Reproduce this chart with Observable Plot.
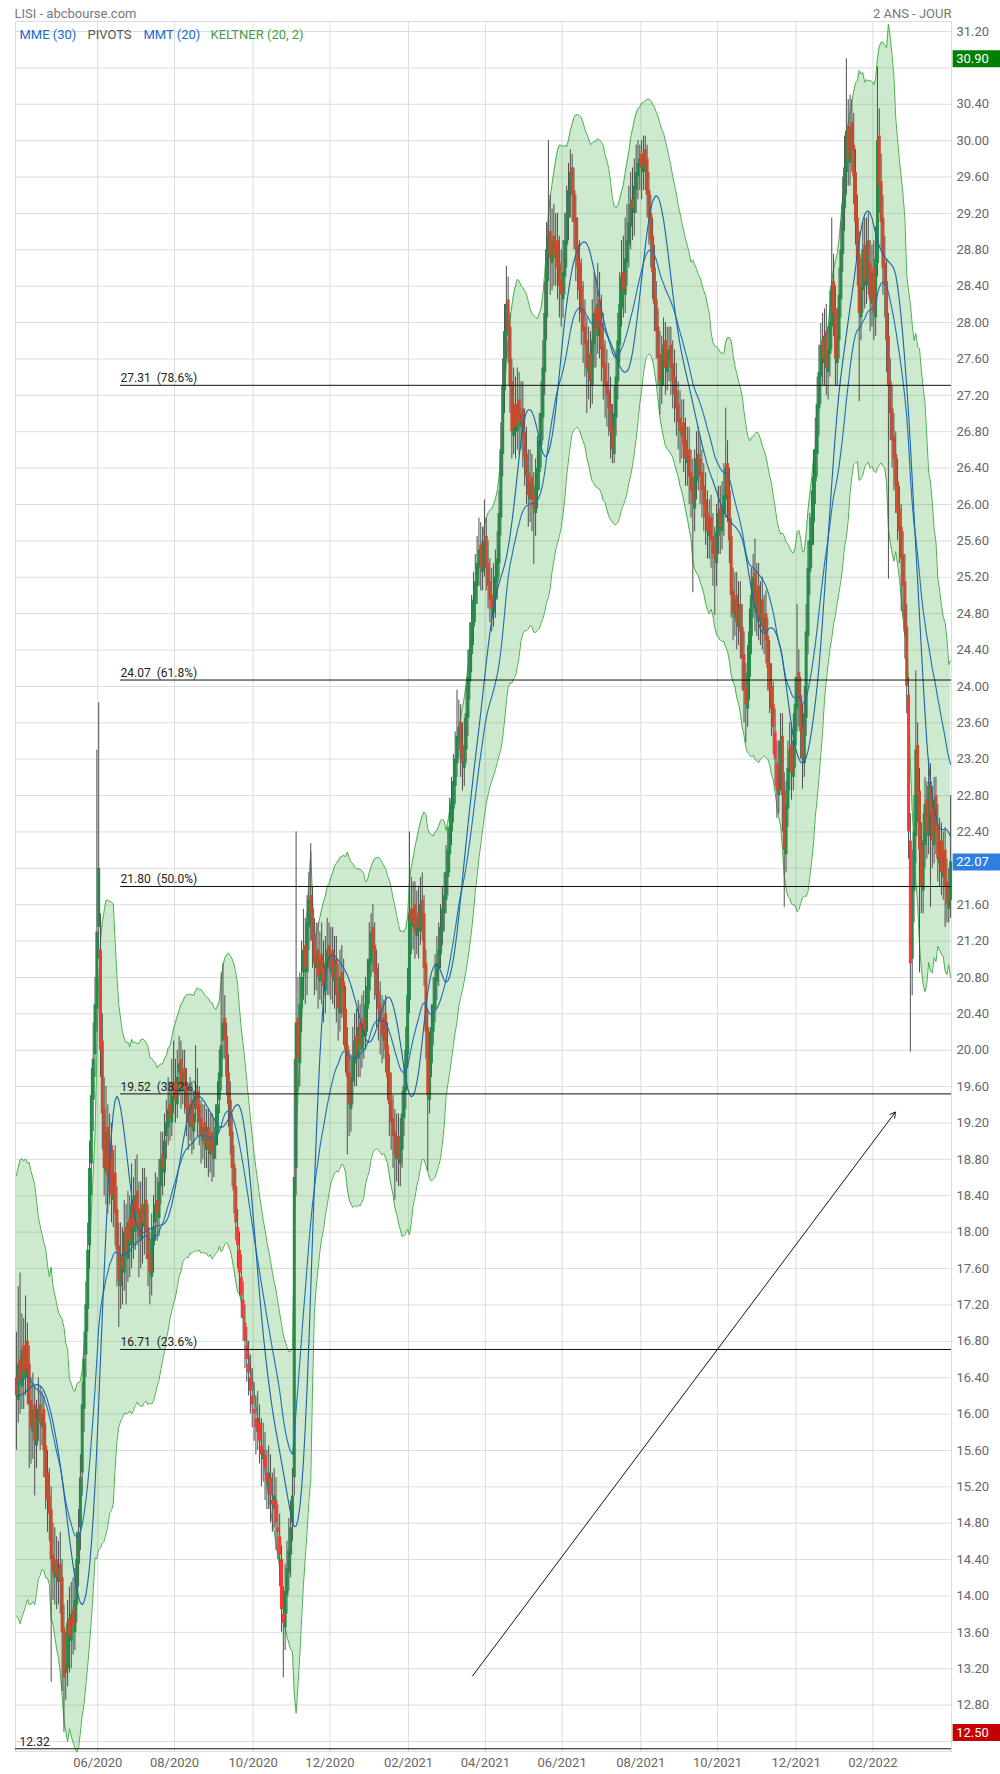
<!DOCTYPE html>
<html>
<head>
<meta charset="utf-8">
<script src="https://cdn.jsdelivr.net/npm/d3@7"></script>
<script src="https://cdn.jsdelivr.net/npm/@observablehq/plot@0.6"></script>
<style>
  html, body { margin: 0; padding: 0; background: #fff; }
  #chart svg { display: block; }
</style>
</head>
<body>
<div id="chart"></div>
<script>
// LISI, daily sessions over two years (index 0 = first session on the chart)
const open = [
  16.40, 16.15, 16.60, 16.30, 16.75, 16.40, 16.80, 16.55, 16.15, 15.80,
  16.10, 15.65, 15.90, 16.10, 15.85, 16.05, 15.65, 15.35, 15.10, 14.95,
  14.45, 14.20, 14.40, 14.15, 14.35, 14.20, 13.65, 13.15, 13.20, 13.75,
  13.50, 13.85, 13.60, 13.90, 14.35, 14.75, 15.35, 16.05, 16.65, 17.15,
  17.85, 18.75, 19.45, 19.95, 20.45, 21.35, 21.10, 20.10, 19.35, 18.65,
  19.15, 18.55, 18.95, 18.35, 18.65, 18.25, 17.85, 17.40, 17.75, 17.55,
  18.05, 17.70, 18.15, 17.85, 18.35, 18.00, 18.45, 18.25, 17.90, 18.30,
  18.05, 18.35, 18.05, 17.75, 17.50, 17.85, 18.10, 18.35, 18.15, 18.50,
  18.85, 18.65, 19.05, 19.15, 19.40, 19.20, 19.55, 19.65, 19.40, 19.75,
  19.90, 19.55, 19.80, 19.60, 19.40, 19.15, 19.45, 19.10, 19.35, 19.55,
  19.40, 19.25, 19.00, 19.20, 18.90, 19.15, 18.85, 19.10, 18.80, 18.95,
  19.10, 19.45, 19.70, 20.10, 20.35, 20.15, 19.75, 19.45, 19.10, 18.75,
  18.50, 18.05, 17.80, 17.50, 17.25, 17.00, 16.75, 16.55, 16.40, 16.20,
  16.05, 15.95, 15.80, 15.90, 15.65, 15.50, 15.55, 15.35, 15.20, 15.30,
  15.05, 14.95, 15.05, 14.75, 14.65, 14.40, 13.80, 13.65, 14.00, 14.25,
  14.45, 14.80, 15.30, 18.70, 20.35, 19.85, 20.45, 20.85, 21.15, 20.85,
  21.35, 21.70, 21.55, 21.25, 20.90, 21.10, 20.75, 21.05, 20.90, 20.65,
  20.90, 21.15, 20.85, 21.10, 20.75, 21.00, 20.65, 20.40, 20.85, 20.75,
  20.45, 20.05, 19.75, 19.35, 19.65, 19.85, 20.15, 19.90, 20.30, 20.00,
  20.35, 20.15, 20.45, 20.65, 20.95, 21.35, 21.15, 20.90, 20.65, 20.50,
  20.35, 20.10, 20.40, 20.05, 19.75, 19.45, 19.25, 19.10, 18.80, 19.05,
  18.75, 18.90, 19.25, 19.55, 19.95, 20.55, 21.55, 21.35, 21.60, 21.25,
  21.50, 21.30, 21.65, 21.50, 20.95, 20.25, 19.45, 19.85, 20.20, 20.45,
  20.75, 20.90, 21.05, 21.30, 21.50, 21.65, 21.90, 22.15, 22.40, 22.65,
  22.90, 23.15, 23.40, 23.60, 23.35, 23.10, 23.30, 23.65, 24.05, 24.35,
  24.65, 24.90, 25.10, 25.30, 25.55, 25.25, 25.40, 25.65, 25.35, 25.15,
  25.00, 24.80, 24.95, 25.15, 25.35, 25.85, 26.55, 27.25, 27.85, 28.25,
  27.95, 27.35, 26.75, 27.10, 26.80, 27.15, 26.85, 27.05, 26.80, 26.55,
  26.35, 26.05, 26.30, 26.10, 25.90, 26.15, 26.35, 26.65, 26.95, 27.45,
  28.05, 28.75, 29.00, 28.65, 28.95, 28.70, 28.90, 28.65, 28.45, 28.25,
  28.50, 28.85, 29.15, 29.40, 29.70, 29.45, 29.15, 28.85, 28.65, 28.40,
  28.15, 27.95, 27.80, 27.45, 27.65, 27.30, 27.75, 28.15, 27.85, 28.25,
  28.00, 27.75, 27.55, 27.35, 27.25, 27.10, 26.85, 26.55, 26.95, 27.35,
  27.75, 28.15, 28.55, 28.30, 28.65, 28.85, 29.05, 29.35, 29.20, 29.45,
  29.60, 29.70, 29.85, 29.65, 29.90, 29.80, 29.45, 29.20, 28.95, 28.60,
  28.25, 27.95, 27.65, 27.30, 27.50, 27.80, 27.45, 27.60, 27.75, 27.55,
  27.40, 27.25, 27.10, 26.95, 26.75, 26.90, 26.70, 26.45, 26.60, 26.35,
  26.20, 25.95, 26.25, 26.55, 26.50, 26.35, 26.20, 26.05, 25.90, 25.65,
  25.85, 25.65, 25.50, 25.35, 25.65, 25.95, 25.70, 25.90, 26.05, 26.45,
  26.15, 25.65, 25.05, 24.75, 25.00, 24.65, 24.90, 24.65, 24.35, 24.00,
  23.75, 24.10, 24.55, 24.95, 25.25, 24.80, 25.10, 24.70, 24.95, 24.60,
  24.80, 24.55, 24.25, 24.00, 23.80, 23.50, 23.15, 22.80, 23.05, 23.45,
  22.85, 22.15, 22.65, 23.05, 23.35, 23.00, 23.35, 23.75, 24.15, 23.90,
  23.55, 23.15, 23.65, 24.55, 25.25, 25.55, 25.80, 26.25, 26.55, 27.05,
  27.40, 27.80, 27.55, 27.90, 27.45, 27.65, 27.95, 28.45, 28.15, 27.55,
  27.80, 28.25, 28.75, 29.25, 29.65, 30.15, 29.75, 30.20, 29.95, 29.65,
  29.15, 28.75, 28.05, 28.35, 28.85, 28.40, 28.90, 28.65, 28.20, 28.60,
  28.05, 28.65, 30.05, 29.55, 29.15, 28.65, 28.45, 27.85, 27.35, 27.05,
  26.75, 26.55, 26.25, 25.95, 25.75, 25.45, 25.15, 24.65, 23.90, 22.30,
  21.00, 21.75, 22.35, 23.35, 22.85, 22.25, 21.75, 22.25, 22.75, 22.35,
  22.95, 22.65, 22.25, 22.80, 22.45, 22.05, 22.30, 21.90, 22.20, 21.85,
  21.55, 21.65
];
const high = [
  16.90, 17.40, 17.55, 17.10, 17.05, 17.30, 17.00, 16.75, 16.40, 16.45,
  16.30, 16.15, 16.40, 16.30, 16.25, 16.20, 15.90, 15.60, 15.40, 15.20,
  14.80, 14.75, 14.65, 14.60, 14.70, 14.40, 13.90, 13.60, 13.95, 14.10,
  14.15, 14.20, 14.30, 14.70, 14.95, 15.55, 16.35, 16.90, 17.45, 18.10,
  19.00, 19.80, 20.30, 20.80, 23.30, 23.82, 21.50, 20.40, 19.70, 19.60,
  19.40, 19.30, 19.20, 18.90, 18.95, 18.50, 18.10, 18.10, 18.05, 18.35,
  18.30, 18.45, 18.40, 18.75, 18.60, 18.80, 18.85, 18.55, 18.55, 18.70,
  18.70, 18.60, 18.30, 18.00, 18.20, 18.40, 18.65, 18.60, 18.80, 19.10,
  19.10, 19.30, 19.45, 19.70, 19.65, 19.90, 20.10, 19.90, 20.00, 20.15,
  20.10, 20.00, 20.00, 19.80, 19.60, 19.70, 19.65, 19.55, 20.05, 19.80,
  19.60, 19.45, 19.40, 19.40, 19.35, 19.35, 19.30, 19.30, 19.25, 19.40,
  19.65, 20.00, 20.85, 20.95, 20.60, 20.30, 19.95, 19.65, 19.30, 18.95,
  18.70, 18.25, 18.00, 17.75, 17.45, 17.20, 16.95, 16.80, 16.65, 16.50,
  16.35, 16.20, 16.25, 16.10, 15.95, 15.90, 15.80, 15.60, 15.65, 15.55,
  15.35, 15.40, 15.30, 15.00, 14.90, 14.55, 14.10, 14.35, 14.60, 14.85,
  15.05, 15.40, 19.90, 22.40, 20.80, 20.85, 21.20, 21.55, 21.45, 21.70,
  21.95, 22.27, 21.80, 21.45, 21.40, 21.40, 21.30, 21.40, 21.20, 21.25,
  21.45, 21.40, 21.35, 21.35, 21.25, 21.25, 20.95, 21.10, 21.15, 21.00,
  20.70, 20.25, 20.00, 19.95, 20.25, 20.40, 20.45, 20.55, 20.50, 20.60,
  20.65, 20.80, 21.00, 21.40, 21.50, 21.60, 21.40, 21.10, 20.95, 20.75,
  20.60, 20.55, 20.60, 20.30, 19.95, 19.75, 19.50, 19.35, 19.30, 19.30,
  19.25, 19.55, 19.85, 20.25, 20.90, 22.40, 21.90, 21.85, 21.85, 21.75,
  21.80, 21.90, 21.95, 21.70, 21.10, 20.45, 20.20, 20.50, 20.80, 21.05,
  21.25, 21.40, 21.60, 21.80, 21.95, 22.25, 22.45, 22.77, 23.00, 23.25,
  23.50, 23.96, 23.85, 23.80, 23.60, 23.65, 24.00, 24.40, 24.70, 25.00,
  25.25, 25.45, 25.65, 25.85, 25.80, 25.75, 26.05, 25.85, 25.60, 25.40,
  25.30, 25.35, 25.50, 25.70, 26.15, 26.90, 27.60, 28.20, 28.62, 28.50,
  28.10, 27.60, 27.50, 27.40, 27.50, 27.45, 27.35, 27.35, 27.05, 26.85,
  26.60, 26.60, 26.55, 26.35, 26.50, 26.75, 27.00, 27.35, 27.80, 28.45,
  29.10, 30.00, 29.40, 29.25, 29.30, 29.20, 29.20, 28.95, 28.80, 28.90,
  29.20, 29.50, 29.75, 29.90, 29.85, 29.70, 29.40, 29.15, 28.90, 28.70,
  28.45, 28.25, 28.05, 27.95, 27.90, 28.25, 28.55, 28.50, 28.65, 28.55,
  28.30, 28.10, 27.80, 27.70, 27.55, 27.40, 27.10, 27.30, 27.70, 28.10,
  28.55, 28.90, 28.95, 29.15, 29.30, 29.50, 29.65, 29.70, 29.80, 29.95,
  30.00, 29.95, 30.00, 30.05, 30.05, 29.95, 29.65, 29.40, 29.15, 28.85,
  28.45, 28.15, 27.90, 27.85, 28.05, 28.00, 27.95, 27.95, 27.95, 27.80,
  27.70, 27.55, 27.35, 27.25, 27.15, 27.15, 26.95, 26.85, 26.85, 26.60,
  26.50, 26.60, 26.80, 26.85, 26.75, 26.60, 26.45, 26.35, 26.15, 26.05,
  26.10, 25.90, 25.75, 26.00, 26.20, 26.20, 26.25, 26.45, 27.06, 26.70,
  26.40, 25.85, 25.30, 25.25, 25.25, 25.15, 25.15, 24.90, 24.60, 24.25,
  24.45, 24.85, 25.30, 25.45, 25.62, 25.35, 25.35, 25.15, 25.20, 25.00,
  25.05, 24.75, 24.50, 24.25, 24.05, 23.75, 23.40, 23.40, 23.70, 23.70,
  23.05, 22.95, 23.40, 23.60, 23.60, 23.70, 24.10, 24.90, 24.40, 24.10,
  23.80, 24.00, 24.90, 25.60, 25.90, 26.15, 26.60, 26.95, 27.40, 27.75,
  27.99, 28.10, 28.15, 28.20, 27.95, 28.35, 29.15, 28.75, 28.40, 28.15,
  28.60, 29.10, 29.60, 30.05, 30.90, 30.45, 30.50, 30.45, 30.30, 29.90,
  29.40, 29.00, 28.70, 29.10, 29.15, 29.15, 29.20, 28.90, 28.85, 28.90,
  29.05, 30.81, 30.35, 29.85, 29.40, 28.95, 28.70, 28.10, 27.60, 27.30,
  27.00, 26.80, 26.50, 26.20, 26.00, 25.70, 25.45, 24.90, 24.10, 22.60,
  22.20, 22.80, 24.17, 23.60, 23.10, 22.50, 22.60, 23.00, 22.95, 23.20,
  23.15, 22.90, 23.00, 23.00, 22.70, 22.55, 22.50, 22.40, 22.45, 22.10,
  22.00, 22.80
];
const low = [
  15.60, 15.90, 16.00, 16.05, 16.05, 16.20, 16.10, 15.40, 15.45, 15.50,
  15.10, 15.40, 15.70, 15.60, 15.65, 15.30, 14.95, 14.70, 14.60, 13.05,
  13.95, 13.90, 13.85, 13.90, 13.80, 12.95, 12.50, 12.85, 13.00, 13.15,
  13.20, 13.35, 13.40, 13.70, 14.10, 14.50, 15.10, 15.80, 16.40, 16.90,
  17.60, 18.40, 19.10, 19.70, 20.20, 21.00, 19.70, 18.90, 18.40, 18.30,
  18.20, 18.30, 18.10, 18.05, 17.85, 17.40, 16.95, 17.15, 17.20, 17.35,
  17.20, 17.45, 17.50, 17.60, 17.70, 17.80, 17.85, 17.50, 17.60, 17.65,
  17.75, 17.70, 17.40, 17.20, 17.30, 17.55, 17.90, 17.90, 17.95, 18.30,
  18.40, 18.50, 18.80, 18.95, 19.00, 19.05, 19.30, 19.20, 19.25, 19.50,
  19.35, 19.40, 19.30, 19.05, 18.90, 19.00, 18.85, 18.90, 19.20, 19.05,
  18.95, 18.75, 18.80, 18.70, 18.70, 18.60, 18.65, 18.55, 18.60, 18.80,
  18.95, 19.30, 19.55, 19.90, 19.90, 19.50, 19.15, 18.85, 18.50, 18.20,
  17.90, 17.60, 17.30, 17.05, 16.80, 16.50, 16.35, 16.20, 16.00, 15.85,
  15.70, 15.55, 15.60, 15.45, 15.20, 15.25, 15.05, 14.95, 14.95, 14.80,
  14.70, 14.75, 14.50, 14.40, 14.10, 13.60, 13.10, 13.40, 13.80, 14.05,
  14.20, 14.60, 15.10, 18.40, 19.55, 19.60, 20.20, 20.55, 20.50, 20.60,
  21.10, 21.20, 20.90, 20.60, 20.65, 20.45, 20.55, 20.50, 20.30, 20.40,
  20.60, 20.60, 20.55, 20.50, 20.45, 20.30, 20.10, 20.20, 20.35, 20.05,
  19.75, 18.85, 19.05, 19.10, 19.40, 19.60, 19.60, 19.70, 19.70, 19.80,
  19.90, 20.00, 20.20, 20.50, 20.80, 20.85, 20.55, 20.25, 20.10, 19.95,
  19.85, 19.90, 19.75, 19.45, 19.05, 18.90, 18.70, 18.35, 18.55, 18.50,
  18.50, 18.70, 19.05, 19.35, 19.80, 20.40, 21.05, 21.10, 21.00, 21.05,
  21.00, 21.15, 21.20, 20.70, 19.90, 18.67, 19.30, 19.70, 20.05, 20.30,
  20.55, 20.70, 20.90, 21.15, 21.30, 21.50, 21.70, 21.95, 22.25, 22.50,
  22.70, 23.00, 23.20, 23.00, 22.85, 22.90, 23.15, 23.45, 23.85, 24.15,
  24.45, 24.70, 24.90, 25.10, 25.05, 25.05, 25.20, 25.05, 24.85, 24.70,
  24.60, 24.65, 24.75, 24.95, 25.20, 25.65, 26.30, 27.00, 27.60, 27.55,
  27.00, 26.50, 26.55, 26.50, 26.60, 26.55, 26.60, 26.40, 26.20, 26.00,
  25.75, 25.80, 25.70, 25.34, 25.65, 25.95, 26.15, 26.40, 26.70, 27.20,
  27.80, 28.45, 28.30, 28.35, 28.40, 28.40, 28.25, 28.05, 27.95, 28.05,
  28.30, 28.60, 28.90, 29.15, 29.10, 28.80, 28.45, 28.25, 28.00, 27.75,
  27.55, 27.40, 27.00, 27.15, 27.05, 27.10, 27.50, 27.50, 27.65, 27.60,
  27.35, 27.15, 26.95, 26.85, 26.75, 26.50, 26.45, 26.45, 26.75, 27.15,
  27.55, 27.95, 28.05, 28.10, 28.40, 28.60, 28.80, 28.90, 28.95, 29.20,
  29.35, 29.45, 29.35, 29.45, 29.45, 29.15, 28.85, 28.60, 28.25, 27.90,
  27.60, 27.30, 26.98, 27.10, 27.30, 27.20, 27.25, 27.35, 27.20, 27.05,
  26.90, 26.75, 26.60, 26.45, 26.50, 26.35, 26.20, 26.20, 26.00, 25.85,
  25.03, 25.70, 26.05, 26.15, 26.00, 25.85, 25.70, 25.55, 25.40, 25.40,
  25.30, 25.10, 24.78, 25.10, 25.45, 25.45, 25.50, 25.65, 25.85, 25.80,
  25.35, 24.75, 24.50, 24.55, 24.40, 24.45, 24.30, 23.95, 23.60, 23.38,
  23.55, 23.85, 24.35, 24.75, 24.60, 24.55, 24.50, 24.45, 24.40, 24.35,
  24.25, 23.95, 23.70, 23.45, 23.25, 22.90, 22.55, 22.60, 22.85, 22.40,
  21.57, 21.95, 22.45, 22.85, 22.75, 22.85, 23.10, 23.50, 23.55, 23.20,
  22.87, 23.00, 23.45, 24.35, 25.00, 25.30, 25.55, 26.00, 26.30, 26.75,
  27.10, 27.30, 27.30, 27.20, 27.15, 27.40, 27.70, 27.85, 27.30, 27.30,
  27.60, 28.05, 28.55, 29.00, 29.40, 29.50, 29.50, 29.65, 29.30, 28.85,
  28.40, 27.13, 27.80, 28.10, 28.15, 28.20, 28.30, 27.90, 27.95, 27.80,
  27.85, 28.50, 29.20, 28.80, 28.30, 28.05, 27.45, 25.18, 26.70, 26.40,
  26.15, 25.90, 25.60, 25.35, 24.82, 24.75, 24.30, 23.70, 22.10, 19.98,
  20.60, 21.40, 22.05, 22.50, 20.85, 21.50, 21.50, 22.00, 22.10, 22.15,
  21.57, 22.00, 22.05, 22.15, 21.85, 21.80, 21.70, 21.65, 21.35, 21.40,
  21.40, 21.45
];
const close = [
  16.20, 16.55, 16.35, 16.70, 16.45, 16.75, 16.50, 16.10, 15.85, 16.05,
  15.70, 15.95, 16.05, 15.90, 16.00, 15.60, 15.30, 15.05, 14.90, 14.40,
  14.25, 14.35, 14.20, 14.30, 14.15, 13.60, 13.10, 13.25, 13.70, 13.55,
  13.80, 13.65, 13.95, 14.40, 14.70, 15.30, 16.10, 16.60, 17.20, 17.80,
  18.70, 19.50, 19.90, 20.50, 21.30, 22.00, 20.00, 19.30, 18.70, 19.10,
  18.60, 18.90, 18.40, 18.60, 18.20, 17.80, 17.45, 17.70, 17.60, 18.00,
  17.75, 18.10, 17.90, 18.30, 18.05, 18.40, 18.20, 17.95, 18.25, 18.10,
  18.30, 18.00, 17.70, 17.55, 17.90, 18.05, 18.30, 18.20, 18.55, 18.80,
  18.70, 19.00, 19.20, 19.35, 19.25, 19.50, 19.60, 19.45, 19.70, 19.85,
  19.60, 19.75, 19.55, 19.35, 19.20, 19.40, 19.15, 19.30, 19.50, 19.35,
  19.20, 19.05, 19.15, 18.95, 19.10, 18.90, 19.05, 18.85, 19.00, 19.15,
  19.40, 19.75, 20.05, 20.30, 20.10, 19.70, 19.40, 19.05, 18.70, 18.45,
  18.10, 17.85, 17.55, 17.30, 17.05, 16.80, 16.60, 16.45, 16.25, 16.10,
  16.00, 15.85, 15.95, 15.70, 15.55, 15.60, 15.40, 15.25, 15.35, 15.10,
  15.00, 15.10, 14.80, 14.70, 14.45, 13.85, 13.70, 14.05, 14.30, 14.50,
  14.75, 15.10, 18.60, 20.30, 19.90, 20.50, 20.80, 21.10, 20.90, 21.40,
  21.65, 21.50, 21.20, 20.95, 21.05, 20.80, 21.00, 20.85, 20.70, 20.95,
  21.10, 20.90, 21.05, 20.80, 20.95, 20.60, 20.45, 20.80, 20.70, 20.40,
  20.00, 19.70, 19.40, 19.70, 19.90, 20.10, 19.95, 20.25, 20.05, 20.30,
  20.20, 20.50, 20.70, 21.00, 21.30, 21.10, 20.85, 20.60, 20.45, 20.30,
  20.15, 20.35, 20.00, 19.70, 19.40, 19.20, 19.05, 18.85, 19.00, 18.80,
  18.95, 19.30, 19.60, 20.00, 20.60, 21.50, 21.40, 21.55, 21.30, 21.45,
  21.35, 21.60, 21.45, 20.90, 20.20, 19.50, 19.90, 20.25, 20.50, 20.80,
  20.95, 21.10, 21.35, 21.55, 21.70, 21.95, 22.20, 22.45, 22.70, 22.95,
  23.20, 23.45, 23.55, 23.30, 23.15, 23.35, 23.70, 24.10, 24.40, 24.70,
  24.95, 25.15, 25.35, 25.50, 25.30, 25.45, 25.60, 25.30, 25.10, 24.95,
  24.85, 25.00, 25.20, 25.40, 25.90, 26.60, 27.30, 27.90, 28.20, 27.90,
  27.30, 26.80, 27.05, 26.85, 27.10, 26.90, 27.00, 26.75, 26.50, 26.30,
  26.10, 26.25, 26.05, 25.95, 26.20, 26.40, 26.70, 27.00, 27.50, 28.10,
  28.80, 28.95, 28.70, 28.90, 28.75, 28.85, 28.60, 28.40, 28.30, 28.55,
  28.90, 29.20, 29.45, 29.65, 29.40, 29.10, 28.80, 28.60, 28.35, 28.10,
  27.90, 27.75, 27.50, 27.60, 27.35, 27.80, 28.10, 27.90, 28.20, 27.95,
  27.70, 27.50, 27.30, 27.20, 27.05, 26.80, 26.60, 27.00, 27.40, 27.80,
  28.20, 28.50, 28.35, 28.70, 28.90, 29.10, 29.30, 29.25, 29.50, 29.65,
  29.75, 29.80, 29.70, 29.85, 29.75, 29.40, 29.15, 28.90, 28.55, 28.20,
  27.90, 27.60, 27.35, 27.55, 27.75, 27.50, 27.65, 27.70, 27.50, 27.35,
  27.20, 27.05, 26.90, 26.80, 26.85, 26.65, 26.50, 26.55, 26.30, 26.15,
  26.00, 26.30, 26.50, 26.45, 26.30, 26.15, 26.00, 25.85, 25.70, 25.80,
  25.60, 25.45, 25.40, 25.70, 25.90, 25.75, 25.95, 26.10, 26.40, 26.10,
  25.60, 25.00, 24.80, 24.95, 24.70, 24.85, 24.60, 24.30, 23.95, 23.80,
  24.15, 24.60, 25.00, 25.20, 24.85, 25.05, 24.75, 24.90, 24.65, 24.75,
  24.50, 24.20, 23.95, 23.75, 23.55, 23.20, 22.85, 23.10, 23.40, 22.80,
  22.20, 22.70, 23.10, 23.30, 23.05, 23.40, 23.80, 24.10, 23.85, 23.50,
  23.20, 23.70, 24.60, 25.30, 25.60, 25.85, 26.30, 26.60, 27.10, 27.45,
  27.75, 27.60, 27.85, 27.50, 27.70, 28.00, 28.40, 28.10, 27.60, 27.85,
  28.30, 28.80, 29.30, 29.70, 30.10, 29.80, 30.15, 29.90, 29.60, 29.10,
  28.70, 28.10, 28.40, 28.80, 28.45, 28.85, 28.60, 28.25, 28.55, 28.10,
  28.70, 30.00, 29.50, 29.10, 28.60, 28.40, 27.80, 27.30, 27.00, 26.70,
  26.50, 26.20, 25.90, 25.70, 25.40, 25.10, 24.60, 24.00, 22.40, 20.95,
  21.80, 22.40, 23.30, 22.80, 22.20, 21.80, 22.30, 22.70, 22.40, 22.90,
  22.60, 22.30, 22.75, 22.40, 22.10, 22.25, 21.95, 22.15, 21.80, 21.60,
  21.75, 22.07
];

// Session index of the first trading day of each labelled month
const monthTicks = [45, 87, 130, 172, 215, 257, 299, 342, 384, 427, 469];
const monthLabels = ["06/2020", "08/2020", "10/2020", "12/2020", "02/2021", "04/2021",
                     "06/2021", "08/2021", "10/2021", "12/2021", "02/2022"];
const priceTicks = [12.4, 12.8, 13.2, 13.6, 14.0, 14.4, 14.8, 15.2, 15.6, 16.0, 16.4, 16.8,
  17.2, 17.6, 18.0, 18.4, 18.8, 19.2, 19.6, 20.0, 20.4, 20.8, 21.2, 21.6, 22.0, 22.4, 22.8,
  23.2, 23.6, 24.0, 24.4, 24.8, 25.2, 25.6, 26.0, 26.4, 26.8, 27.2, 27.6, 28.0, 28.4, 28.8,
  29.2, 29.6, 30.0, 30.4, 30.8, 31.2];

// Fibonacci retracement drawn on the chart
const fibLevels = [12.32, 16.71, 19.52, 21.80, 24.07, 27.31];
const fibPercents = [null, "23.6", "38.2", "50.0", "61.8", "78.6"];
const fibStartSession = [0, 57.5, 57.5, 57.5, 57.5, 57.5];

// Hand-drawn trend arrow (session index, price)
const trendArrow = [{s1: 250, p1: 13.12, s2: 481.3, p2: 19.32}];

// Indicator settings and their state on the first session shown
const kcPeriod = 20, kcAtrPeriod = 10, kcMult = 2, mmePeriod = 30, mmtPeriod = 20;
const kcMidStart = 16.2, kcAtrStart = 1.2, mmeStart = 16.35, mmtStart = 16.2;

const n = close.length;
const sessions = d3.range(n);
const candles = sessions.map(i => {
  const o = open[i], c = close[i];
  const prev = i > 0 ? close[i - 1] : o;
  return {
    x: i + 0.5, o, c, prev,
    h: Math.max(high[i], o, c),
    l: Math.min(low[i], o, c),
    kind: c >= o ? "up" : (o < prev ? "gap" : "down")
  };
});

function sma(values, p) {
  return values.map((_, j) => j < p - 1 ? NaN : d3.mean(values.slice(j - p + 1, j + 1)));
}

// Keltner channel: EMA of close +/- multiple of the average true range
const trueRange = candles.map((d, i) =>
  Math.max(high[i] - low[i], Math.abs(high[i] - d.prev), Math.abs(low[i] - d.prev)));
const atr = sma(new Array(kcAtrPeriod).fill(kcAtrStart).concat(trueRange), kcAtrPeriod).slice(kcAtrPeriod);
const kk = 2 / (kcPeriod + 1);
let kMid = kcMidStart;
const keltner = candles.map((d, i) => {
  kMid += kk * (close[i] - kMid);
  return {x: d.x, upper: kMid + kcMult * atr[i], lower: kMid - kcMult * atr[i]};
});

// MME: exponential moving average
const km = 2 / (mmePeriod + 1);
let e = mmeStart;
const mme = close.map(c => (e += km * (c - e)));

// MMT: triangular moving average (SMA of an SMA)
const p1 = Math.ceil(mmtPeriod / 2), p2 = Math.floor(mmtPeriod / 2) + 1;
const pad = p1 + p2;
const padded = new Array(pad).fill(mmtStart).concat(close);
const mmt = sma(sma(padded, p1), p2).slice(pad);

const fibs = fibLevels.map((v, i) => ({
  v, start: fibStartSession[i],
  label: fibPercents[i] ? `${v.toFixed(2)}\u00a0\u00a0(${fibPercents[i]}%)` : v.toFixed(2)
}));

const priceTags = [
  {v: d3.max(high), fill: "#008000"},
  {v: close[n - 1], fill: "#2f7fe3"},
  {v: d3.min(low), fill: "#c40000"}
];
// Axis labels hidden behind a price tag are left out
const axisTicks = priceTicks.filter(t => priceTags.every(g => Math.abs(g.v - t) > 0.2));

const candleColor = {up: "#268a4b", down: "#c84d30", gap: "#ff3636"};

const legend = [
  {text: "MME (30)", dx: 4, fill: "#1a6ccf"},
  {text: "PIVOTS", dx: 72, fill: "#555555"},
  {text: "MMT (20)", dx: 128, fill: "#1a6ccf"},
  {text: "KELTNER (20, 2)", dx: 195, fill: "#43a047"}
];

const chart = Plot.plot({
  width: 1000,
  height: 1774,
  marginTop: 21,
  marginBottom: 23,
  marginLeft: 15,
  marginRight: 49,
  style: {fontFamily: "Roboto, 'Open Sans', sans-serif", fontSize: "13px", color: "#666", background: "#fff"},
  x: {
    domain: [0, 512],
    ticks: monthTicks,
    tickFormat: d => monthLabels[monthTicks.indexOf(d)],
    tickSize: 0,
    tickPadding: 6,
    label: null
  },
  y: {
    domain: [12.29, 31.31],
    axis: "right",
    ticks: axisTicks,
    tickFormat: d => d.toFixed(2),
    tickSize: 0,
    tickPadding: 5,
    label: null
  },
  marks: [
    Plot.ruleY(priceTicks, {stroke: "#dcdcdc", strokeWidth: 1}),
    Plot.ruleX(monthTicks, {stroke: "#dcdcdc", strokeWidth: 1}),
    Plot.frame({stroke: "#dcdcdc"}),

    // Keltner band
    Plot.areaY(keltner, {x: "x", y1: "lower", y2: "upper", fill: "#4caf50", fillOpacity: 0.28}),
    Plot.line(keltner, {x: "x", y: "upper", stroke: "#4caf50", strokeWidth: 1}),
    Plot.line(keltner, {x: "x", y: "lower", stroke: "#4caf50", strokeWidth: 1}),

    // Candles: wicks then bodies
    Plot.ruleX(candles, {x: "x", y1: "l", y2: "h", stroke: "#4f4f4f", strokeWidth: 1}),
    ...Object.entries(candleColor).map(([kind, color]) =>
      Plot.ruleX(candles.filter(d => d.kind === kind), {x: "x", y1: "o", y2: "c", stroke: color, strokeWidth: 3})
    ),

    // Moving averages
    Plot.line(sessions, {x: i => i + 0.5, y: i => mme[i], stroke: "#1f6fb5", strokeWidth: 1.1}),
    Plot.line(sessions, {x: i => i + 0.5, y: i => mmt[i], stroke: "#1b63a6", strokeWidth: 1.1}),

    // Fibonacci levels
    Plot.ruleY(fibs, {y: "v", x1: "start", x2: 512, stroke: "#111", strokeWidth: 1}),
    Plot.text(fibs.filter(f => f.start > 0), {x: "start", y: "v", text: "label", textAnchor: "start", dy: -7, fill: "#222", fontSize: 12}),
    Plot.text(fibs.filter(f => f.start === 0), {x: "start", y: "v", text: "label", textAnchor: "start", dx: 4, dy: -7, fill: "#222", fontSize: 12}),

    // Trend arrow
    Plot.arrow(trendArrow, {x1: "s1", y1: "p1", x2: "s2", y2: "p2", stroke: "#111", strokeWidth: 1, headLength: 9}),

    // Price tags on the right axis
    ...priceTags.map(t => Plot.ruleY([t.v], {x1: 512.9, x2: 540, stroke: t.fill, strokeWidth: 17})),
    Plot.text(priceTags, {x: 512.9, y: "v", text: d => d.v.toFixed(2), textAnchor: "start", dx: 3, fill: "#fff", fontSize: 13}),

    // Header and legend
    Plot.text(["LISI - abcbourse.com"], {frameAnchor: "top-left", text: d => d, dx: -1, dy: -13, fill: "#777", fontSize: 13}),
    Plot.text(["2 ANS - JOUR"], {frameAnchor: "top-right", text: d => d, textAnchor: "end", dy: -13, fill: "#777", fontSize: 13}),
    ...legend.map(l => Plot.text([l.text], {frameAnchor: "top-left", text: d => d, textAnchor: "start", dx: l.dx, dy: 8, fill: l.fill, fontSize: 13}))
  ]
});

document.getElementById("chart").appendChild(chart);
</script>
</body>
</html>
